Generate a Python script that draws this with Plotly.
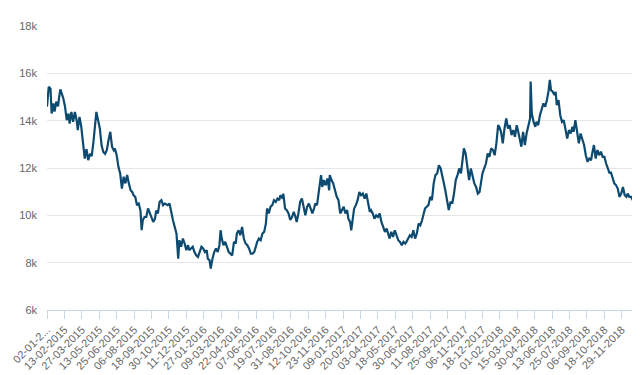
import plotly.graph_objects as go

# trading-day index (0 = 02-01-2015) and index level
day_index = [
    0, 3, 6, 8, 11, 13, 16, 19, 21, 23, 26, 28, 31, 34, 37, 39, 42, 45, 48, 51, 53, 56, 59, 62, 65, 68, 71, 74, 77, 80,
    83, 85, 88, 91, 94, 97, 100, 103, 106, 109, 112, 115, 117, 120, 123, 126, 129, 132, 135, 138, 141, 144, 147, 149,
    152, 155, 158, 161, 163, 165, 168, 171, 174, 177, 180, 183, 186, 188, 191, 194, 197, 200, 203,
    208, 211, 214, 217, 220, 223, 226, 228, 231, 234, 237, 240, 243, 245, 248, 251, 254, 257, 260, 263, 266, 269, 272,
    275, 277, 280, 282, 285, 288, 291, 294, 297, 299, 301, 304, 307, 310, 313, 316, 319, 322, 325, 327, 330, 333, 336,
    339, 342, 345, 348, 351, 354, 357, 359, 362, 365, 368, 371, 374, 377, 379, 382, 385, 388, 391, 394, 397, 400, 402, 406,
    407, 410, 413, 416, 419, 422, 425, 428, 430, 433, 436, 439, 442, 445, 448, 451, 454, 457, 460, 462, 465, 468, 471,
    472, 474, 477, 480, 483, 486, 487, 490, 493, 496, 499, 502, 505, 508, 511, 514, 517, 519, 522, 524, 526, 529, 532,
    535, 538, 541, 544, 547, 550, 553, 556, 558, 561, 564, 567, 570, 573, 576, 579, 582, 585, 588, 590, 593, 596, 599,
    602, 605, 608, 611, 614, 617,
    619, 622, 625, 628, 631, 634, 637, 640, 643, 646, 649, 651, 654, 657, 660, 663, 666, 669, 672, 675, 678, 681, 683,
    686, 689, 692, 695, 698, 701, 704, 707, 710, 713, 715, 718, 721, 724, 727, 730, 733, 736, 739, 742, 745, 747, 750,
    753, 756, 759, 762, 765, 768, 771, 774, 777, 779, 782, 785, 788, 791, 794, 797, 800, 803, 806, 809, 811, 814, 817,
    820, 823, 826, 829, 832, 833, 835, 838, 841, 843, 846, 849, 852, 855, 858, 861, 864, 866, 868, 871, 874, 876, 878,
    881, 884, 887, 890, 893, 896, 899, 902, 905, 907, 910, 913, 916, 919, 922, 925, 928, 931, 934, 937, 939, 942, 945,
    948, 951, 954, 957, 960, 963, 966, 969, 971, 974, 977, 980, 983, 986, 989, 992, 995, 998, 1000, 1003, 1006, 1009,
]

index_level = [
    14590, 15430, 15350, 14300, 14730, 14380, 14800, 14600, 15000, 15320, 15100, 14950, 14600, 14020, 14300, 13880,
    14370, 13950, 14370, 14020, 13600, 14160, 13750, 12900, 12400, 12800, 12330, 12600, 12500, 13100, 13740, 14370,
    14020, 13670, 12960, 12680, 12600, 12750, 13180, 13530, 12900, 12750, 12820, 12540, 12050, 11770, 11130, 11630,
    11350, 11700, 11350, 11060, 10980, 10850, 10780, 10430, 10500, 10200, 9370, 9800, 9930, 9930, 10290, 10080, 9860,
    9720, 9860, 10200, 10080, 10570, 10640, 10430, 10500,
    10430, 10500, 10080, 9790, 9510, 9230, 8170, 8950, 8670, 9020, 8810, 8530, 8740, 8530, 8600, 8670, 8450, 8310,
    8240, 8450, 8670, 8600, 8450, 8530, 8170, 8100, 7750, 8170, 8450, 8600, 8450, 8740, 9370, 9020, 8740, 8880, 8670,
    8450, 8380, 8310, 8880, 8810, 9230, 9370, 9160, 9510, 9020, 8810, 8740, 8600, 8380, 8380, 8450, 8670, 8880, 9020,
    8950, 9230, 9300, 9650, 10290, 10080, 10360, 10430, 10640, 10570, 10710, 10640, 10850, 10710,
    10920, 10290, 10220, 10080, 9800, 9930, 10150, 9930, 9720, 10080, 10570, 10710, 10360, 10000, 10360, 10500, 10290,
    10080, 10290, 10500, 10430, 10920, 11490, 11700, 11200, 11490, 11270, 11560, 11060, 11700, 11490, 11350, 11060,
    10780, 10640, 10080, 10220, 10360, 10080, 10220, 9860, 9720, 9370, 9860, 10290, 10430, 10640, 10990, 10850, 10920,
    10710, 10920, 10500, 10150, 10220, 10080, 9860, 10000, 9930, 10080, 9720, 9510, 9300, 9440, 9160, 9020, 9300, 9090,
    9370, 9160, 8950, 8880, 8740, 8880, 8810,
    8880, 9020, 9160, 9090, 9370, 9020, 9230, 9650, 9580, 9790, 10080, 10290, 10360, 10430, 10780, 10640, 11350, 11700,
    11770, 12120, 11980, 11560, 11420, 11060, 10640, 10220, 10570, 10500, 10920, 11490, 11700, 11980, 11770, 12330,
    12830, 12610, 11910, 11490, 11980, 11630, 11350, 11200, 10920, 10990, 11350, 11770, 11980, 12190, 12610, 12470,
    12830, 12760, 12540, 13040, 13810, 13740, 13530, 13040, 13670, 14090, 13670, 13810, 13390, 13600, 13320, 13810,
    13600, 13180, 12900,
    13530, 12970, 13460, 13810, 14090, 15650, 14300, 13950, 13740, 13950, 13810, 14230, 14520, 14730, 14590, 14870,
    15290, 15720, 15290, 15220, 15080, 15220, 14660, 14870, 14230, 13950, 14020, 13670, 13250, 13600, 13460, 13740,
    13530, 14020, 13460, 13040, 13460, 13250, 12970, 12540, 12260, 12400, 12330, 12610, 12970, 12400, 12760, 12540,
    12690, 12470, 12470, 12190, 11980, 11770, 11840, 11560, 11350, 11280, 11130, 10780, 10920, 11200, 10850, 10780,
    10920, 10780, 10780, 10640,
]

tick_day_index = list(range(0, 991, 30))
tick_labels = [
    "02-01-2...", "13-02-2015", "27-03-2015", "13-05-2015", "25-06-2015", "06-08-2015", "18-09-2015",
    "30-10-2015", "11-12-2015", "27-01-2016", "09-03-2016", "22-04-2016", "07-06-2016", "19-07-2016",
    "31-08-2016", "12-10-2016", "23-11-2016", "09-01-2017", "20-02-2017", "03-04-2017", "18-05-2017",
    "30-06-2017", "11-08-2017", "25-09-2017", "06-11-2017", "18-12-2017", "01-02-2018", "15-03-2018",
    "30-04-2018", "13-06-2018", "25-07-2018", "06-09-2018", "18-10-2018", "29-11-2018",
]

y_ticks = [6000, 8000, 10000, 12000, 14000, 16000, 18000]
y_tick_labels = ["6k", "8k", "10k", "12k", "14k", "16k", "18k"]

fig = go.Figure()
fig.add_trace(go.Scatter(
    x=day_index, y=index_level, mode="lines",
    line=dict(color="#0d4a70", width=2.2),
    hoverinfo="y", showlegend=False,
))

font_family = "Liberation Sans, Arial, sans-serif"
# page body adds an 8px offset, so the figure is 8px smaller on each axis
fig.update_layout(
    width=632, height=367,
    margin=dict(l=39, r=6, t=18, b=65),
    paper_bgcolor="white", plot_bgcolor="white",
    font=dict(family=font_family, size=11, color="#666666"),
    xaxis=dict(
        range=[0, 1011], tickmode="array", tickvals=tick_day_index, ticktext=tick_labels,
        tickangle=-45, showgrid=False, zeroline=False, automargin=False,
        showline=True, linecolor="#ccd6eb", linewidth=1,
        ticks="outside", ticklen=8, tickcolor="#ccd6eb", tickwidth=1,
        tickfont=dict(size=11, color="#666666"),
    ),
    yaxis=dict(
        range=[6000, 18000], tickmode="array", tickvals=y_ticks, ticktext=y_tick_labels,
        showgrid=True, gridcolor="#e6e6e6", gridwidth=1, zeroline=False, automargin=False,
        showline=False, ticks="", ticklabelstandoff=9,
        tickfont=dict(size=11, color="#666666"),
    ),
)

fig.write_html("out.html")
